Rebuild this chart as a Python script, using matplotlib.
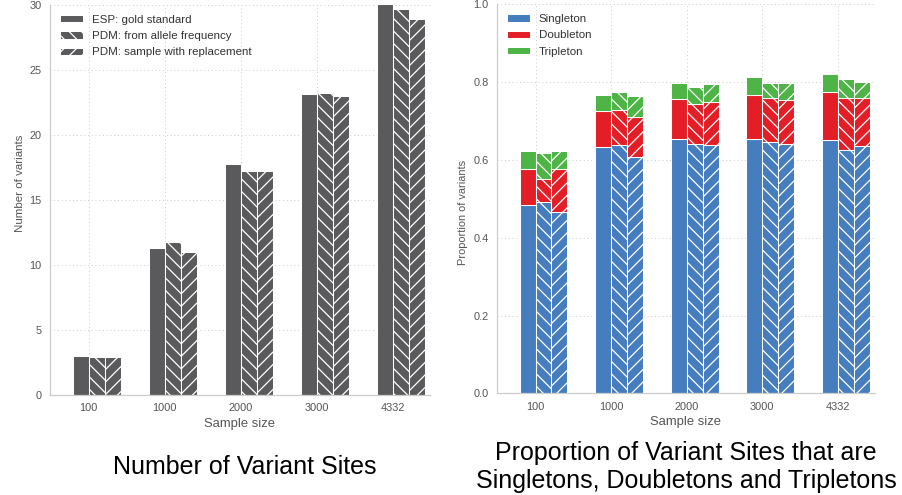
import numpy as np
import matplotlib
matplotlib.use("Agg")
import matplotlib.pyplot as plt
from matplotlib.patches import Patch

plt.rcParams['font.family'] = ['Liberation Sans', 'DejaVu Sans']
plt.rcParams['hatch.color'] = 'white'
plt.rcParams['hatch.linewidth'] = 1.2

sample_sizes = ["100", "1000", "2000", "3000", "4332"]
methods = ["ESP: gold standard", "PDM: from allele frequency", "PDM: sample with replacement"]
hatches = [None, "\\\\", "//"]

# number of variant sites per method
n_variants = {
    "esp": [3.02, 11.28, 17.77, 23.15, 30.05],
    "pdm_freq": [2.90, 11.80, 17.23, 23.20, 29.70],
    "pdm_repl": [2.90, 11.02, 17.23, 23.00, 28.95],
}

# proportions (singleton / doubleton / tripleton) per method
singleton = {
    "esp": [0.483, 0.632, 0.654, 0.655, 0.652],
    "pdm_freq": [0.491, 0.638, 0.641, 0.647, 0.626],
    "pdm_repl": [0.466, 0.608, 0.638, 0.642, 0.636],
}
doubleton = {
    "esp": [0.093, 0.094, 0.103, 0.112, 0.123],
    "pdm_freq": [0.060, 0.091, 0.102, 0.113, 0.134],
    "pdm_repl": [0.110, 0.101, 0.111, 0.113, 0.122],
}
tripleton = {
    "esp": [0.048, 0.040, 0.040, 0.045, 0.045],
    "pdm_freq": [0.068, 0.045, 0.044, 0.038, 0.049],
    "pdm_repl": [0.047, 0.054, 0.045, 0.043, 0.043],
}
keys = ["esp", "pdm_freq", "pdm_repl"]

grey = "#5a5a5c"
blue = "#457dbf"
red = "#e41e26"
green = "#4db445"
txt = "#555555"

fig = plt.figure(figsize=(903 / 75, 495 / 75), dpi=75)
ax1 = fig.add_axes([50 / 903, 100 / 495, 380 / 903, 390 / 495])
ax2 = fig.add_axes([497 / 903, 101.7 / 495, 378 / 903, 389 / 495])

w = 0.21
idx = np.arange(len(sample_sizes))


def style(ax):
    ax.set_axisbelow(True)
    ax.grid(True, linestyle=(0, (1, 3)), color="#c8c8c8", linewidth=0.9)
    for s in ["top", "right"]:
        ax.spines[s].set_visible(False)
    for s in ["left", "bottom"]:
        ax.spines[s].set_color("#cccccc")
        ax.spines[s].set_linewidth(1.2)
    ax.tick_params(length=0, labelsize=10.5, colors=txt, pad=8)
    ax.set_xticks(idx + w)
    ax.set_xticklabels(sample_sizes)
    ax.set_xlim(-0.3, 4.7)
    ax.set_xlabel("Sample size", fontsize=12.5, color=txt, labelpad=4)


def legend(ax, handles):
    ax.legend(handles=handles, loc="upper left", frameon=False, fontsize=11,
              handlelength=2.0, handleheight=0.6, handletextpad=0.8,
              labelspacing=0.55, borderaxespad=0.45, labelcolor="#333333")


# left: number of variants
for k, key in enumerate(keys):
    ax1.bar(idx + k * w, n_variants[key], w, align="edge", color=grey,
            edgecolor="white", linewidth=1.0, hatch=hatches[k])
style(ax1)
ax1.set_ylim(0, 30)
ax1.set_yticks(range(0, 31, 5))
ax1.set_ylabel("Number of variants", fontsize=11, color=txt)
ax1.yaxis.set_label_coords(-0.066, 0.544)
legend(ax1, [Patch(facecolor=grey, edgecolor="white", hatch=hatches[k], label=methods[k])
             for k in range(3)])

# right: proportions
for k, key in enumerate(keys):
    s = np.array(singleton[key])
    d = np.array(doubleton[key])
    t = np.array(tripleton[key])
    x = idx + k * w
    ax2.bar(x, s, w, align="edge", color=blue, edgecolor="white", linewidth=1.0, hatch=hatches[k])
    ax2.bar(x, d, w, bottom=s, align="edge", color=red, edgecolor="white", linewidth=1.0, hatch=hatches[k])
    ax2.bar(x, t, w, bottom=s + d, align="edge", color=green, edgecolor="white", linewidth=1.0, hatch=hatches[k])
style(ax2)
ax2.set_ylim(0, 1.0)
ax2.set_yticks(np.arange(0, 1.01, 0.2))
ax2.set_yticklabels(["%.1f" % v for v in np.arange(0, 1.01, 0.2)])
ax2.set_ylabel("Proportion of variants", fontsize=10.5, color=txt)
ax2.yaxis.set_label_coords(-0.078, 0.465)
legend(ax2, [Patch(facecolor=c, edgecolor="white", label=l)
             for c, l in zip([blue, red, green], ["Singleton", "Doubleton", "Tripleton"])])

fig.text(245 / 903, 1 - 467 / 495, "Number of Variant Sites", ha="center", va="center",
         fontsize=24, color="black")
fig.text(686 / 903, 1 - 467 / 495, "Proportion of Variant Sites that are\nSingletons, Doubletons and Tripletons",
         ha="center", va="center", fontsize=24, color="black", linespacing=1.22)

fig.savefig("out.png", dpi=75)
